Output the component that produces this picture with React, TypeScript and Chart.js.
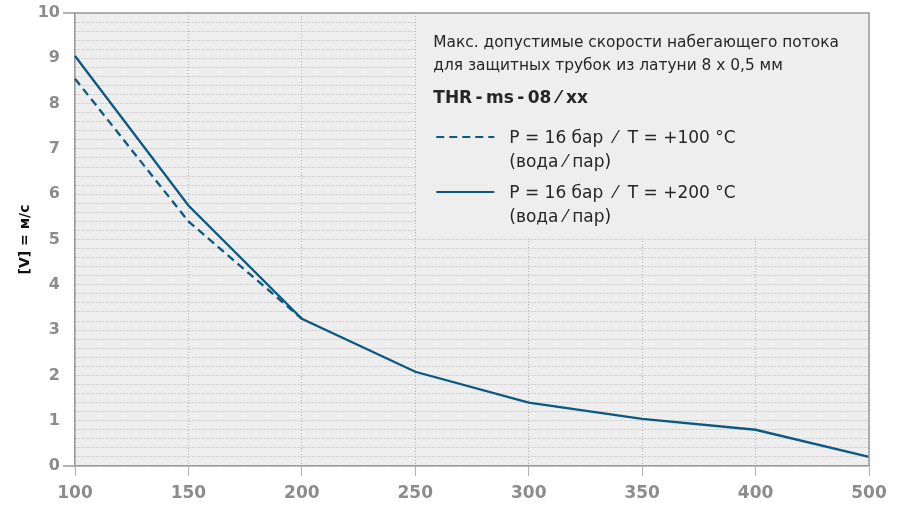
import React, { useEffect, useRef } from "react";
import { Chart, registerables } from "chart.js";

Chart.register(...registerables);

const categories = ["100", "150", "200", "250", "300", "350", "400", "500"];
const series100C = [8.55, 5.4, 3.25, null, null, null, null, null];
const series200C = [9.05, 5.75, 3.25, 2.08, 1.4, 1.04, 0.8, 0.2];
const seriesLabels = ["P = 16 бар  ⁄  T = +100 °C", "P = 16 бар  ⁄  T = +200 °C"];
const seriesSub = "(вода ⁄ пар)";
const boxLines = [
  "Макс. допустимые скорости набегающего потока",
  "для защитных трубок из латуни 8 x 0,5 мм",
];
const boxTitle = "THR\u2009-\u2009ms\u2009-\u200908 ⁄ xx";
const yTitle = "[V] = м/с";

const LINE = "#0b5883";
const AXIS = "#9a9a9a";
const TICKTXT = "#8c8c8c";
const BG = "#eeeeee";

const decor = {
  id: "decor",
  beforeDraw(chart: any) {
    const { ctx, chartArea: a } = chart;
    ctx.save();
    ctx.fillStyle = BG;
    ctx.fillRect(a.left, a.top, a.right - a.left, a.bottom - a.top);
    ctx.restore();
  },
  beforeDatasetsDraw(chart: any) {
    const { ctx, chartArea: a, scales } = chart;
    const x0 = scales.x.getPixelForValue(3) + 1;
    const y1 = scales.y.getPixelForValue(5) - 1;
    ctx.save();
    ctx.fillStyle = BG;
    ctx.fillRect(x0, a.top, a.right - x0, y1 - a.top);
    const tx = x0 + 17;
    ctx.fillStyle = "#262626";
    ctx.textBaseline = "alphabetic";
    ctx.textAlign = "left";
    ctx.font = "15.4px 'DejaVu Sans'";
    ctx.fillText(boxLines[0], tx, a.top + 34);
    ctx.fillText(boxLines[1], tx, a.top + 57);
    ctx.font = "bold 17px 'DejaVu Sans'";
    ctx.fillText(boxTitle, tx, a.top + 90);
    const items = [
      { y: a.top + 124, dash: [8, 5] },
      { y: a.top + 179, dash: [] },
    ];
    items.forEach((it, i) => {
      ctx.strokeStyle = LINE;
      ctx.lineWidth = 2;
      ctx.setLineDash(it.dash);
      ctx.beginPath();
      ctx.moveTo(tx + 3, it.y);
      ctx.lineTo(tx + 61, it.y);
      ctx.stroke();
      ctx.setLineDash([]);
      ctx.font = "17px 'DejaVu Sans'";
      ctx.fillStyle = "#262626";
      ctx.fillText(seriesLabels[i], tx + 76, it.y + 6);
      ctx.fillText(seriesSub, tx + 76, it.y + 30);
    });
    ctx.restore();
  },
  afterDraw(chart: any) {
    const { ctx, chartArea: a, scales } = chart;
    ctx.save();
    ctx.strokeStyle = AXIS;
    ctx.lineWidth = 1.5;
    ctx.beginPath();
    ctx.moveTo(a.left, a.top);
    ctx.lineTo(a.right, a.top);
    ctx.lineTo(a.right, a.bottom);
    ctx.stroke();
    [0, 10].forEach((v) => {
      const y = scales.y.getPixelForValue(v);
      ctx.beginPath();
      ctx.moveTo(a.left - 12, y);
      ctx.lineTo(a.left, y);
      ctx.stroke();
    });
    ctx.restore();
  },
};

export default function App() {
  const ref = useRef<HTMLCanvasElement>(null);
  useEffect(() => {
    const chart = new Chart(ref.current as HTMLCanvasElement, {
      type: "line",
      data: {
        labels: categories,
        datasets: [
          {
            data: series100C,
            borderColor: LINE,
            borderWidth: 2.3,
            borderDash: [8, 5],
            pointRadius: 0,
            tension: 0,
            spanGaps: false,
          },
          {
            data: series200C,
            borderColor: LINE,
            borderWidth: 2.3,
            pointRadius: 0,
            tension: 0,
          },
        ],
      },
      options: {
        animation: false,
        responsive: false,
        devicePixelRatio: 1,
        layout: { padding: { top: 13, right: 33, left: 0, bottom: 0 } },
        plugins: { legend: { display: false }, tooltip: { enabled: false } },
        scales: {
          x: {
            type: "category",
            offset: false,
            grid: { color: "#b0b0b0", lineWidth: 1, tickLength: 10, drawTicks: true },
            border: { color: AXIS, width: 1.5, dash: [1, 2] },
            ticks: {
              color: TICKTXT,
              font: { family: "'DejaVu Sans'", size: 17, weight: "bold" },
              padding: 7,
              maxRotation: 0,
              autoSkip: false,
            },
            afterFit: (s: any) => {
              s.height = 39;
            },
          },
          y: {
            min: 0,
            max: 10,
            grid: {
              color: "#b3b3b3",
              lineWidth: 1,
              tickLength: 12,
              tickColor: "rgba(0,0,0,0)",
            },
            border: { color: AXIS, width: 1.5, dash: [1, 2] },
            ticks: {
              stepSize: 0.2,
              maxTicksLimit: 100,
              autoSkip: false,
              color: TICKTXT,
              padding: 3,
              font: { family: "'DejaVu Sans'", size: 16, weight: "bold" },
              callback: (v: any) => {
                const n = Number(v);
                return Math.abs(n - Math.round(n)) < 1e-6 ? String(Math.round(n)) : "";
              },
            },
            title: {
              display: true,
              text: yTitle,
              color: "#111",
              font: { family: "'DejaVu Sans'", size: 14, weight: "bold" },
              padding: { top: 17, bottom: 0 },
            },
            afterFit: (s: any) => {
              s.width = 75;
            },
          },
        },
      },
      plugins: [decor],
    });
    return () => chart.destroy();
  }, []);
  return (
    <div style={{ position: "fixed", left: 0, top: 0, width: 902, height: 505 }}>
      <canvas ref={ref} width={902} height={505} style={{ display: "block" }} />
    </div>
  );
}
